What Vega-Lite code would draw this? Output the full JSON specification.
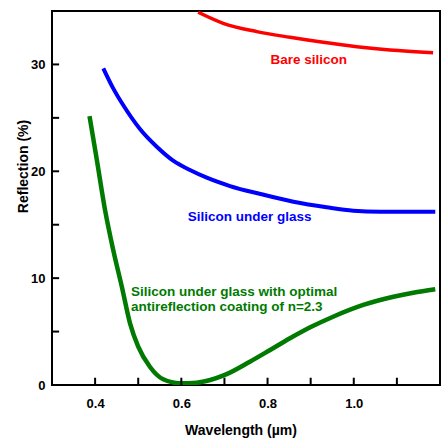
{
  "$schema": "https://vega.github.io/schema/vega-lite/v6.json",
  "width": 388,
  "height": 374,
  "autosize": {"type": "none"},
  "padding": {"left": 52, "top": 11, "right": 1, "bottom": 53},
  "background": "white",
  "config": {
    "view": {"stroke": "black", "strokeWidth": 2},
    "font": "Liberation Sans",
    "axis": {
      "grid": false,
      "domain": false,
      "ticks": false,
      "labelFont": "Liberation Sans",
      "labelFontWeight": "bold",
      "labelFontSize": 13,
      "labelColor": "black",
      "titleFont": "Liberation Sans",
      "titleFontWeight": "bold",
      "titleFontSize": 14,
      "titleColor": "black"
    }
  },
  "datasets": {
    "curves": [
      {"series": "Bare silicon", "wl": 0.639, "r": 34.88},
      {"series": "Bare silicon", "wl": 0.697, "r": 33.85},
      {"series": "Bare silicon", "wl": 0.775, "r": 33.07},
      {"series": "Bare silicon", "wl": 0.852, "r": 32.54},
      {"series": "Bare silicon", "wl": 0.929, "r": 32.07},
      {"series": "Bare silicon", "wl": 1.007, "r": 31.66},
      {"series": "Bare silicon", "wl": 1.084, "r": 31.35},
      {"series": "Bare silicon", "wl": 1.184, "r": 31.10},
      {"series": "Silicon under glass", "wl": 0.419, "r": 29.64},
      {"series": "Silicon under glass", "wl": 0.442, "r": 27.76},
      {"series": "Silicon under glass", "wl": 0.465, "r": 26.20},
      {"series": "Silicon under glass", "wl": 0.504, "r": 23.96},
      {"series": "Silicon under glass", "wl": 0.543, "r": 22.30},
      {"series": "Silicon under glass", "wl": 0.581, "r": 21.00},
      {"series": "Silicon under glass", "wl": 0.620, "r": 20.12},
      {"series": "Silicon under glass", "wl": 0.659, "r": 19.40},
      {"series": "Silicon under glass", "wl": 0.713, "r": 18.62},
      {"series": "Silicon under glass", "wl": 0.786, "r": 17.85},
      {"series": "Silicon under glass", "wl": 0.860, "r": 17.15},
      {"series": "Silicon under glass", "wl": 0.937, "r": 16.63},
      {"series": "Silicon under glass", "wl": 0.999, "r": 16.31},
      {"series": "Silicon under glass", "wl": 1.061, "r": 16.22},
      {"series": "Silicon under glass", "wl": 1.189, "r": 16.22},
      {"series": "Coated", "wl": 0.387, "r": 25.17},
      {"series": "Coated", "wl": 0.404, "r": 21.06},
      {"series": "Coated", "wl": 0.423, "r": 16.38},
      {"series": "Coated", "wl": 0.442, "r": 12.63},
      {"series": "Coated", "wl": 0.462, "r": 9.20},
      {"series": "Coated", "wl": 0.481, "r": 5.77},
      {"series": "Coated", "wl": 0.500, "r": 3.59},
      {"series": "Coated", "wl": 0.527, "r": 1.71},
      {"series": "Coated", "wl": 0.558, "r": 0.53},
      {"series": "Coated", "wl": 0.597, "r": 0.16},
      {"series": "Coated", "wl": 0.636, "r": 0.22},
      {"series": "Coated", "wl": 0.667, "r": 0.47},
      {"series": "Coated", "wl": 0.701, "r": 0.94},
      {"series": "Coated", "wl": 0.759, "r": 2.18},
      {"series": "Coated", "wl": 0.806, "r": 3.28},
      {"series": "Coated", "wl": 0.852, "r": 4.37},
      {"series": "Coated", "wl": 0.899, "r": 5.40},
      {"series": "Coated", "wl": 0.952, "r": 6.39},
      {"series": "Coated", "wl": 1.022, "r": 7.49},
      {"series": "Coated", "wl": 1.092, "r": 8.26},
      {"series": "Coated", "wl": 1.138, "r": 8.64},
      {"series": "Coated", "wl": 1.189, "r": 8.96}
    ],
    "labels": [
      {"series": "Bare silicon", "wl": 0.807, "r": 30.41, "text": "Bare silicon"},
      {"series": "Silicon under glass", "wl": 0.615, "r": 15.75, "text": "Silicon under glass"},
      {"series": "Coated", "wl": 0.483, "r": 8.73, "text": "Silicon under glass with optimal"},
      {"series": "Coated", "wl": 0.483, "r": 7.27, "text": "antireflection coating of n=2.3"}
    ],
    "xticks": [
      {"wl": 0.4}, {"wl": 0.5}, {"wl": 0.6}, {"wl": 0.7}, {"wl": 0.8}, {"wl": 0.9}, {"wl": 1.0}, {"wl": 1.1}
    ],
    "yticks": [
      {"r": 5}, {"r": 10}, {"r": 15}, {"r": 20}, {"r": 25}, {"r": 30}
    ]
  },
  "layer": [
    {
      "data": {"name": "curves"},
      "mark": {"type": "line", "interpolate": "monotone", "clip": true},
      "encoding": {
        "x": {
          "field": "wl",
          "type": "quantitative",
          "scale": {"domain": [0.3, 1.2], "nice": false, "zero": false},
          "axis": {
            "title": "Wavelength (µm)",
            "values": [0.4, 0.6, 0.8, 1.0],
            "format": ".1f",
            "labelPadding": 12,
            "titleX": 188.5,
            "titleY": 45.7,
            "titleBaseline": "middle"
          }
        },
        "y": {
          "field": "r",
          "type": "quantitative",
          "scale": {"domain": [0, 35], "nice": false},
          "axis": {
            "title": "Reflection (%)",
            "values": [0, 10, 20, 30],
            "labelPadding": 7,
            "titleX": -29,
            "titleY": 155,
            "titleBaseline": "middle"
          }
        },
        "color": {
          "field": "series",
          "type": "nominal",
          "scale": {"domain": ["Bare silicon", "Silicon under glass", "Coated"], "range": ["#ff0000", "#0000ff", "#007a00"]},
          "legend": null
        },
        "strokeWidth": {
          "field": "series",
          "type": "nominal",
          "scale": {"domain": ["Bare silicon", "Silicon under glass", "Coated"], "range": [3.5, 4.5, 4]},
          "legend": null
        }
      }
    },
    {
      "data": {"name": "labels"},
      "mark": {"type": "text", "align": "left", "baseline": "middle", "font": "Liberation Sans", "fontWeight": "bold", "fontSize": 13.5},
      "encoding": {
        "x": {"field": "wl", "type": "quantitative"},
        "y": {"field": "r", "type": "quantitative"},
        "text": {"field": "text"},
        "color": {"field": "series", "type": "nominal", "legend": null}
      }
    },
    {
      "data": {"name": "xticks"},
      "mark": {"type": "rule", "stroke": "#000000", "strokeWidth": 2},
      "encoding": {
        "x": {"field": "wl", "type": "quantitative"},
        "y": {"datum": 0, "type": "quantitative"},
        "y2": {"datum": 0.68}
      }
    },
    {
      "data": {"name": "yticks"},
      "mark": {"type": "rule", "stroke": "#000000", "strokeWidth": 2},
      "encoding": {
        "y": {"field": "r", "type": "quantitative"},
        "x": {"datum": 0.3, "type": "quantitative"},
        "x2": {"datum": 0.3165}
      }
    }
  ]
}
